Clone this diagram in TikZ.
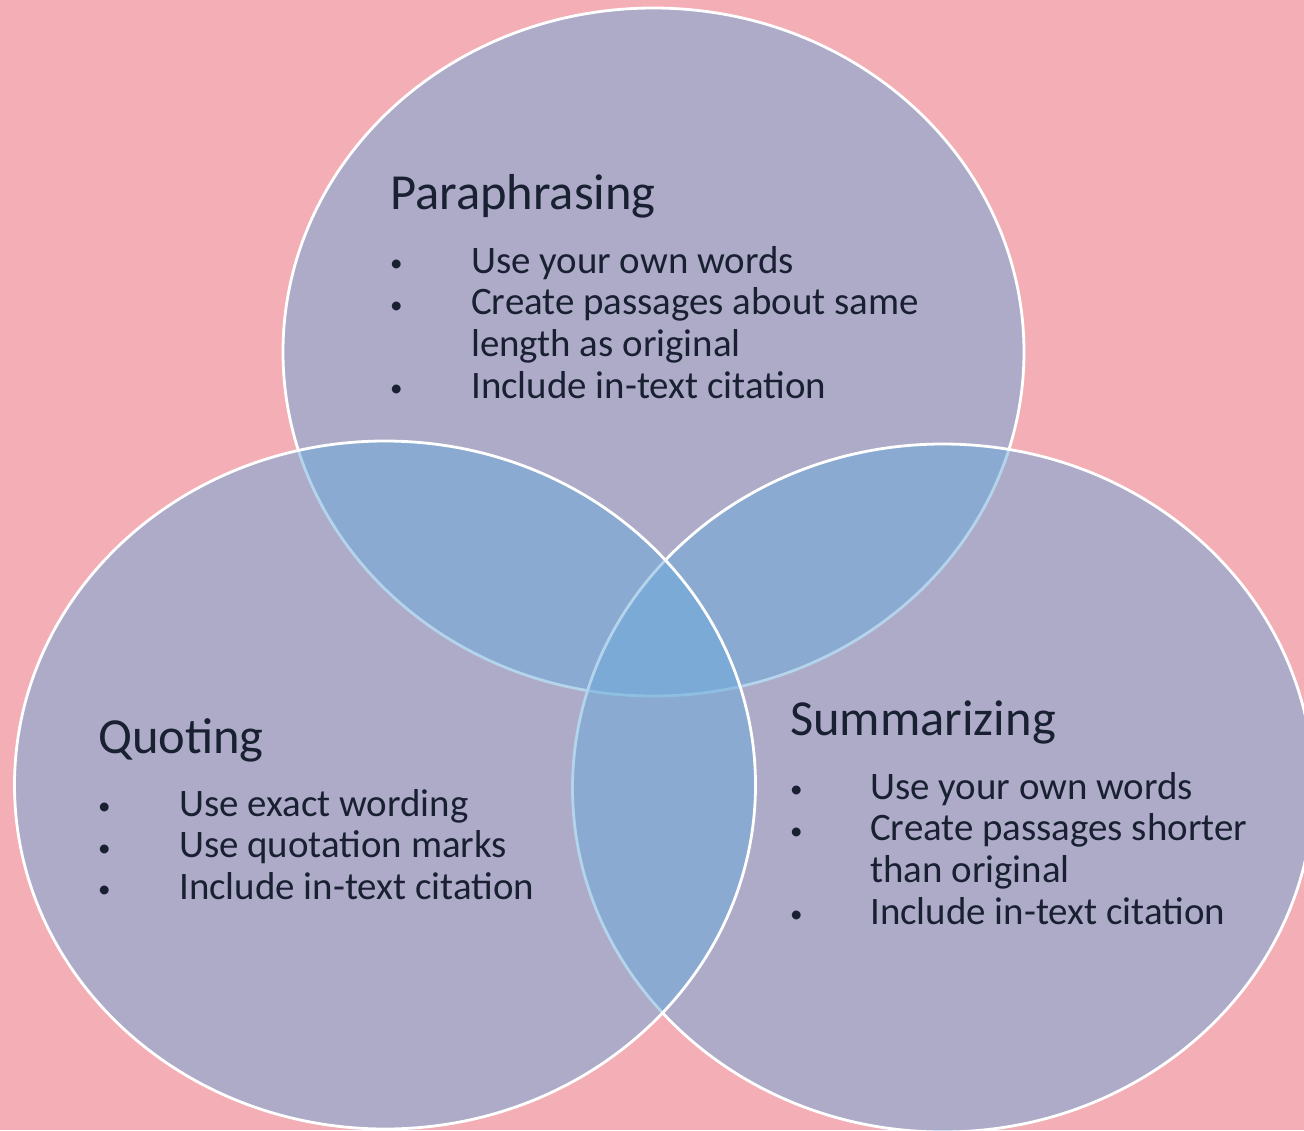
\documentclass[tikz,border=0pt]{standalone}
\usepackage{fontspec}
\setmainfont{Carlito}
\definecolor{bgpink}{RGB}{244,174,182}
\definecolor{setblue}{RGB}{106,170,218}
\definecolor{inkdark}{RGB}{24,32,50}
% small list marker
\newcommand{\itemdot}{\raisebox{1.5pt}{\fontsize{25}{25}\selectfont\textbullet}}
\begin{document}
\begin{tikzpicture}[x=1pt,y=-1pt,
  setshape/.style={draw=white, line width=2.8pt, fill=setblue, fill opacity=0.5, draw opacity=1},
  heading/.style={anchor=base west, inner sep=0pt, text=inkdark, font=\fontsize{50.5}{60}\selectfont},
  bullets/.style={anchor=base west, inner sep=0pt, text=inkdark, font=\fontsize{38.9}{41.7}\selectfont}]
  % page and background
  \useasboundingbox (0,0) rectangle (1304,1130);
  \fill[bgpink] (0,0) rectangle (1304,1130);
  \clip (0,0) rectangle (1304,1130);
  % the three sets, stacked top, right, left
  \path[setshape] (653.5,352) ellipse [x radius=370.5, y radius=344];
  \path[setshape] (943,788) ellipse [x radius=370.5, y radius=344];
  \path[setshape] (385,785) ellipse [x radius=370.5, y radius=344];
  % Paraphrasing
  \node[heading] (ptitle) at (390,209) {Paraphrasing};
  \node[bullets] (plist) at (390,273) {\begin{tabular}[t]{@{}p{81pt}@{}l@{}}
    \itemdot & Use your own words\\
    \itemdot & Create passages about same\\
             & length as original\\
    \itemdot & Include in-text citation
  \end{tabular}};
  % Quoting
  \node[heading] (qtitle) at (98,753) {Quoting};
  \node[bullets] (qlist) at (98,816) {\begin{tabular}[t]{@{}p{81pt}@{}l@{}}
    \itemdot & Use exact wording\\
    \itemdot & Use quotation marks\\
    \itemdot & Include in-text citation
  \end{tabular}};
  % Summarizing
  \node[heading] (stitle) at (790,735) {Summarizing};
  \node[bullets] (slist) at (790,799) {\begin{tabular}[t]{@{}p{80pt}@{}l@{}}
    \itemdot & Use your own words\\
    \itemdot & Create passages shorter\\
             & than original\\
    \itemdot & Include in-text citation
  \end{tabular}};
\end{tikzpicture}
\end{document}
